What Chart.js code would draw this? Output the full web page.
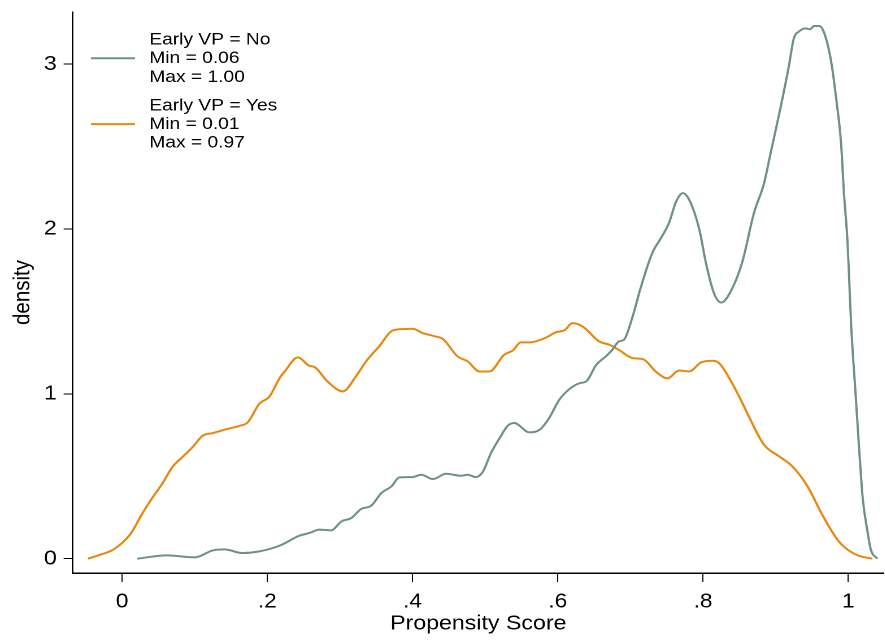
<!DOCTYPE html>
<html>
<head>
<meta charset="utf-8">
<script src="https://cdn.jsdelivr.net/npm/chart.js@4"></script>
<style>
  html, body { margin: 0; padding: 0; background: #fff; overflow: hidden; }
  /* Stata exported the graph slightly wider than tall, so the text is stretched
     horizontally; draw at 1/1.13 width and stretch the whole canvas back. */
  #wrap {
    width: 783.2px;
    height: 641px;
    transform: scaleX(1.13);
    transform-origin: 0 0;
  }
</style>
</head>
<body>
<div id="wrap"><canvas id="density"></canvas></div>
<script>
// Kernel density of the propensity score, split by Early VP.
var noX = [0.021, 0.061, 0.100, 0.125, 0.141, 0.166, 0.189, 0.217, 0.244, 0.258,
  0.272, 0.288, 0.302, 0.316, 0.329, 0.343, 0.357, 0.371, 0.382, 0.400,
  0.412, 0.428, 0.446, 0.467, 0.476, 0.487, 0.497, 0.508, 0.520, 0.531,
  0.540, 0.561, 0.575, 0.588, 0.602, 0.616, 0.630, 0.639, 0.653, 0.666,
  0.675, 0.684, 0.691, 0.703, 0.714, 0.730, 0.742, 0.753, 0.763, 0.772,
  0.781, 0.795, 0.804, 0.815, 0.825, 0.838, 0.854, 0.870, 0.884, 0.893,
  0.907, 0.918, 0.925, 0.932, 0.941, 0.947, 0.953, 0.960, 0.967, 0.976,
  0.983, 0.990, 0.994, 0.999, 1.002, 1.004, 1.010, 1.015, 1.020, 1.026,
  1.031, 1.040];
var noY = [0.000, 0.020, 0.008, 0.050, 0.056, 0.034, 0.044, 0.079, 0.139, 0.156,
  0.176, 0.172, 0.226, 0.247, 0.301, 0.321, 0.398, 0.439, 0.493, 0.495,
  0.509, 0.483, 0.515, 0.503, 0.509, 0.495, 0.529, 0.641, 0.732, 0.806,
  0.823, 0.766, 0.782, 0.853, 0.964, 1.029, 1.065, 1.075, 1.176, 1.227,
  1.267, 1.318, 1.328, 1.469, 1.642, 1.854, 1.945, 2.036, 2.167, 2.218,
  2.177, 1.995, 1.793, 1.611, 1.554, 1.621, 1.800, 2.096, 2.278, 2.460,
  2.743, 2.985, 3.157, 3.198, 3.218, 3.212, 3.232, 3.232, 3.188, 3.026,
  2.803, 2.521, 2.218, 1.915, 1.611, 1.409, 1.000, 0.661, 0.360, 0.176,
  0.055, 0.000];

var yesX = [-0.047, -0.030, -0.012, 0.011, 0.027, 0.040, 0.056, 0.070, 0.084, 0.098,
  0.111, 0.125, 0.144, 0.162, 0.173, 0.189, 0.203, 0.217, 0.224, 0.242,
  0.258, 0.265, 0.283, 0.304, 0.322, 0.336, 0.354, 0.372, 0.387, 0.400,
  0.414, 0.428, 0.442, 0.462, 0.476, 0.492, 0.506, 0.526, 0.538, 0.549,
  0.561, 0.584, 0.598, 0.609, 0.620, 0.634, 0.657, 0.671, 0.684, 0.703,
  0.717, 0.735, 0.751, 0.767, 0.781, 0.797, 0.813, 0.822, 0.836, 0.852,
  0.863, 0.884, 0.905, 0.923, 0.944, 0.964, 0.985, 0.996, 1.013, 1.033];
var yesY = [0.000, 0.024, 0.055, 0.146, 0.267, 0.358, 0.459, 0.560, 0.620, 0.681,
  0.746, 0.762, 0.786, 0.806, 0.827, 0.940, 0.984, 1.096, 1.136, 1.221,
  1.170, 1.163, 1.075, 1.015, 1.106, 1.197, 1.288, 1.383, 1.393, 1.395,
  1.369, 1.352, 1.332, 1.227, 1.197, 1.136, 1.136, 1.237, 1.263, 1.312,
  1.312, 1.342, 1.375, 1.385, 1.429, 1.409, 1.318, 1.298, 1.267, 1.217,
  1.211, 1.135, 1.094, 1.142, 1.136, 1.190, 1.201, 1.187, 1.096, 0.964,
  0.863, 0.691, 0.620, 0.560, 0.438, 0.267, 0.115, 0.065, 0.020, 0.000];

var xTicks = [0, 0.2, 0.4, 0.6, 0.8, 1];
var xTickLabels = ["0", ".2", ".4", ".6", ".8", "1"];
var yTicks = [0, 1, 2, 3];

var legendNo = ["Early VP = No", "Min = 0.06", "Max = 1.00"];
var legendYes = ["Early VP = Yes", "Min = 0.01", "Max = 0.97"];

var GREEN = "#6e9186";
var ORANGE = "#e8870e";
var FONT = "'Liberation Sans', Arial, Helvetica, sans-serif";

function pts(xs, ys) {
  return xs.map(function (x, i) { return { x: x, y: ys[i] }; });
}

// Stata-style key drawn inside the plot region, top left.
var keyPlugin = {
  id: "stataKey",
  afterDraw: function (chart) {
    var ctx = chart.ctx;
    var groups = [
      { color: GREEN, rows: legendNo, top: 39.8 },
      { color: ORANGE, rows: legendYes, top: 105.6 },
    ];
    ctx.save();
    ctx.font = "17px " + FONT;
    ctx.fillStyle = "#000";
    ctx.textAlign = "left";
    ctx.textBaseline = "middle";
    groups.forEach(function (g) {
      g.rows.forEach(function (txt, i) {
        ctx.fillText(txt, 132.1, g.top + i * 18.7);
      });
      ctx.strokeStyle = g.color;
      ctx.lineWidth = 2;
      ctx.beginPath();
      ctx.moveTo(80.5, g.top + 18.5);
      ctx.lineTo(119.5, g.top + 18.5);
      ctx.stroke();
    });
    ctx.restore();
  },
};

function grid(len) {
  return {
    display: true,
    drawOnChartArea: false,
    drawTicks: true,
    tickLength: len,
    color: "#000",
    lineWidth: 1,
  };
}

new Chart(document.getElementById("density"), {
  type: "line",
  data: {
    datasets: [
      {
        label: "Early VP = No",
        data: pts(noX, noY),
        borderColor: GREEN,
        borderWidth: 2,
        pointRadius: 0,
        cubicInterpolationMode: "monotone",
      },
      {
        label: "Early VP = Yes",
        data: pts(yesX, yesY),
        borderColor: ORANGE,
        borderWidth: 2,
        pointRadius: 0,
        cubicInterpolationMode: "monotone",
      },
    ],
  },
  plugins: [keyPlugin],
  options: {
    responsive: true,
    maintainAspectRatio: false,
    devicePixelRatio: 2,
    animation: false,
    layout: { padding: { top: 12, right: 0, bottom: 0, left: 0 } },
    plugins: { legend: { display: false }, tooltip: { enabled: false } },
    scales: {
      x: {
        type: "linear",
        min: -0.068,
        max: 1.049,
        afterBuildTicks: function (s) {
          s.ticks = xTicks.map(function (v) { return { value: v }; });
        },
        afterFit: function (s) {
          s.height = 68;
          s.paddingLeft = 0;
          s.paddingRight = 0;
        },
        ticks: {
          color: "#000",
          font: { family: FONT, size: 20 },
          padding: 8,
          maxRotation: 0,
          callback: function (v) { return xTickLabels[xTicks.indexOf(v)]; },
        },
        grid: grid(9),
        border: { display: true, color: "#000", width: 1.5 },
        title: {
          display: true,
          text: "Propensity Score",
          color: "#000",
          font: { family: FONT, size: 20.5 },
          padding: { top: 0, bottom: 5 },
        },
      },
      y: {
        min: -0.087,
        max: 3.317,
        afterBuildTicks: function (s) {
          s.ticks = yTicks.map(function (v) { return { value: v }; });
        },
        afterFit: function (s) {
          s.width = 64.3;
          s.paddingTop = 0;
          s.paddingBottom = 0;
        },
        ticks: {
          color: "#000",
          font: { family: FONT, size: 20.5 },
          padding: 6,
          callback: function (v) { return String(v); },
        },
        grid: grid(8),
        border: { display: true, color: "#000", width: 1.4 },
        title: {
          display: true,
          text: "density",
          color: "#000",
          font: { family: FONT, size: 20.5 },
          padding: { top: 8, bottom: 0 },
        },
      },
    },
  },
});
</script>
</body>
</html>
